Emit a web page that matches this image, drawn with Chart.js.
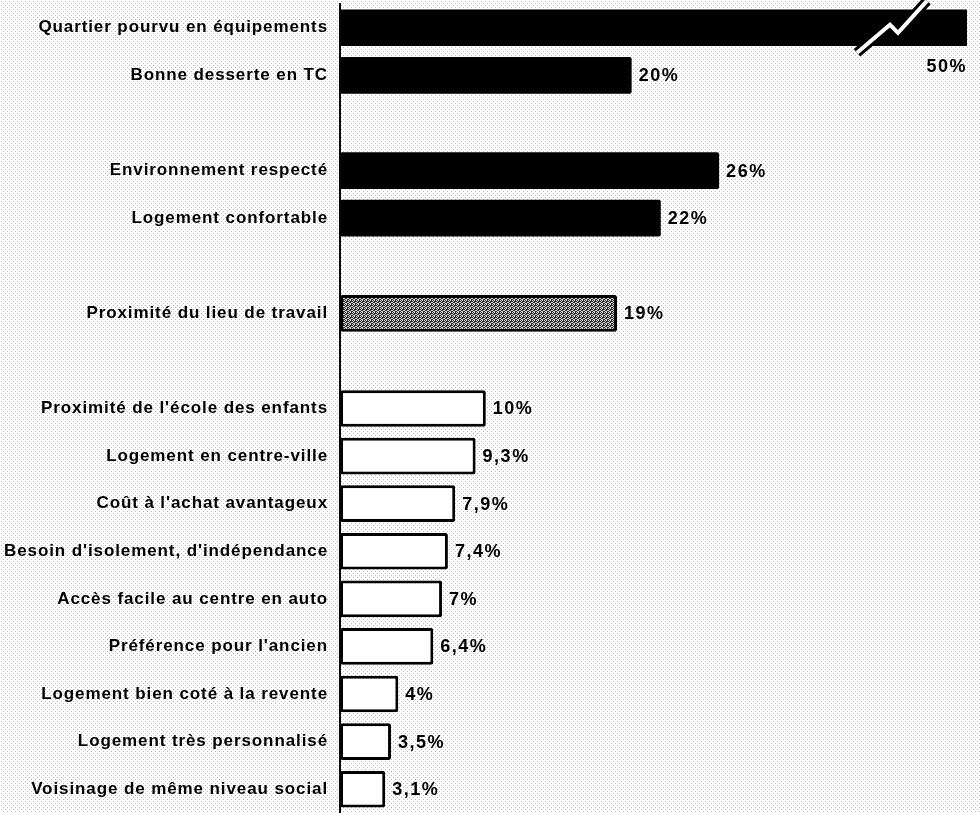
<!DOCTYPE html>
<html>
<head>
<meta charset="utf-8">
<script src="https://cdn.jsdelivr.net/npm/chart.js@4"></script>
<style>
  html, body { margin: 0; padding: 0; background: #ffffff; }
  #wrap { width: 980px; height: 813px; position: relative; }
</style>
</head>
<body>
<div id="wrap"><canvas id="c" width="980" height="813"></canvas></div>
<script>
// ---- data ----
const categories = [
  'Quartier pourvu en équipements',
  'Bonne desserte en TC',
  '',
  'Environnement respecté',
  'Logement confortable',
  '',
  'Proximité du lieu de travail',
  '',
  "Proximité de l'école des enfants",
  'Logement en centre-ville',
  "Coût à l'achat avantageux",
  "Besoin d'isolement, d'indépendance",
  'Accès facile au centre en auto',
  "Préférence pour l'ancien",
  'Logement bien coté à la revente',
  'Logement très personnalisé',
  'Voisinage de même niveau social'
];
const values = [50, 20, null, 26, 22, null, 19, null, 10, 9.3, 7.9, 7.4, 7, 6.4, 4, 3.5, 3.1];
const valueLabels = ['50%', '20%', '', '26%', '22%', '', '19%', '', '10%', '9,3%', '7,9%', '7,4%', '7%', '6,4%', '4%', '3,5%', '3,1%'];
const groups = ['A', 'A', '', 'A', 'A', '', 'B', '', 'C', 'C', 'C', 'C', 'C', 'C', 'C', 'C', 'C'];
const axisMax = 43;

// ---- styles ----
function makePattern(bg, fg, cells) {
  const t = document.createElement('canvas');
  t.width = 4; t.height = 4;
  const g = t.getContext('2d');
  g.fillStyle = bg; g.fillRect(0, 0, 4, 4);
  g.fillStyle = fg;
  cells.forEach(([x, y]) => g.fillRect(x, y, 1, 1));
  return g.createPattern(t, 'repeat');
}
const ctx0 = document.getElementById('c').getContext('2d');
const grayPattern = makePattern('#2a2a2a', '#d8d8d8', [[0,0],[2,0],[1,1],[3,2],[0,2],[2,3],[1,3]]);
const bgPattern = makePattern('#ffffff', '#b8b8b8', [[1,1],[3,3]]);

const fillFor = g => g === 'A' ? '#000000' : (g === 'B' ? grayPattern : '#ffffff');
const borderWFor = g => g === 'A' ? 0 : 3;

const FONT = "'Liberation Sans', Arial, Helvetica, sans-serif";
const LABEL_SPACING = '0.9px';

const bgPlugin = {
  id: 'bg',
  beforeUpdate(chart) { chart.ctx.letterSpacing = LABEL_SPACING; },
  beforeLayout(chart) { chart.ctx.letterSpacing = LABEL_SPACING; },
  beforeDraw(chart) {
    const c = chart.ctx;
    c.letterSpacing = LABEL_SPACING;
    c.save();
    c.fillStyle = bgPattern;
    c.fillRect(0, 0, chart.width, chart.height);
    c.restore();
  }
};

const labelPlugin = {
  id: 'vlabels',
  afterDatasetsDraw(chart) {
    const c = chart.ctx;
    const meta = chart.getDatasetMeta(0);
    const area = chart.chartArea;
    c.save();
    c.letterSpacing = '1.5px';
    c.fillStyle = '#000';
    c.font = 'bold 18px ' + FONT;
    c.textBaseline = 'middle';
    meta.data.forEach((bar, i) => {
      const v = values[i];
      if (v === null) return;
      const txt = valueLabels[i];
      if (v > axisMax) {
        // broken bar: zigzag break mark + label below bar end
        const bx = area.right, by = bar.y;
        const pts = [[-110, 25], [-77, -3], [-69, 5], [-40, -27]];
        c.save();
        c.lineJoin = 'miter';
        c.beginPath();
        pts.forEach(([dx, dy], k) => k ? c.lineTo(bx + dx, by + dy) : c.moveTo(bx + dx, by + dy));
        c.strokeStyle = '#000'; c.lineWidth = 10; c.stroke();
        c.strokeStyle = '#fff'; c.lineWidth = 4; c.stroke();
        c.restore();
        c.textAlign = 'right';
        c.fillText(txt, bx, by + bar.height / 2 + 21);
      } else {
        c.textAlign = 'left';
        c.fillText(txt, bar.x + 7, bar.y + 1);
      }
    });
    c.restore();
  }
};

new Chart(ctx0, {
  type: 'bar',
  data: {
    labels: categories,
    datasets: [{
      data: values,
      backgroundColor: groups.map(fillFor),
      borderColor: '#000',
      borderWidth: groups.map(borderWFor),
      borderSkipped: false,
      borderRadius: 2,
      barPercentage: 0.77,
      categoryPercentage: 1.0
    }]
  },
  options: {
    indexAxis: 'y',
    responsive: false,
    animation: false,
    layout: { autoPadding: false, padding: { top: 4, right: 13, bottom: 0, left: 0 } },
    plugins: { legend: { display: false }, tooltip: { enabled: false } },
    scales: {
      x: { min: 0, max: axisMax, display: false },
      y: {
        grid: { display: false, drawTicks: false },
        border: { display: true, color: '#000', width: 2 },
        ticks: { color: '#000', padding: 12, font: { family: FONT, size: 17, weight: 'bold' } },
        afterFit(scale) {
          scale.width = 340;
          scale.paddingTop = 0;
          scale.paddingBottom = 0;
        }
      }
    }
  },
  plugins: [bgPlugin, labelPlugin]
});
</script>
</body>
</html>
